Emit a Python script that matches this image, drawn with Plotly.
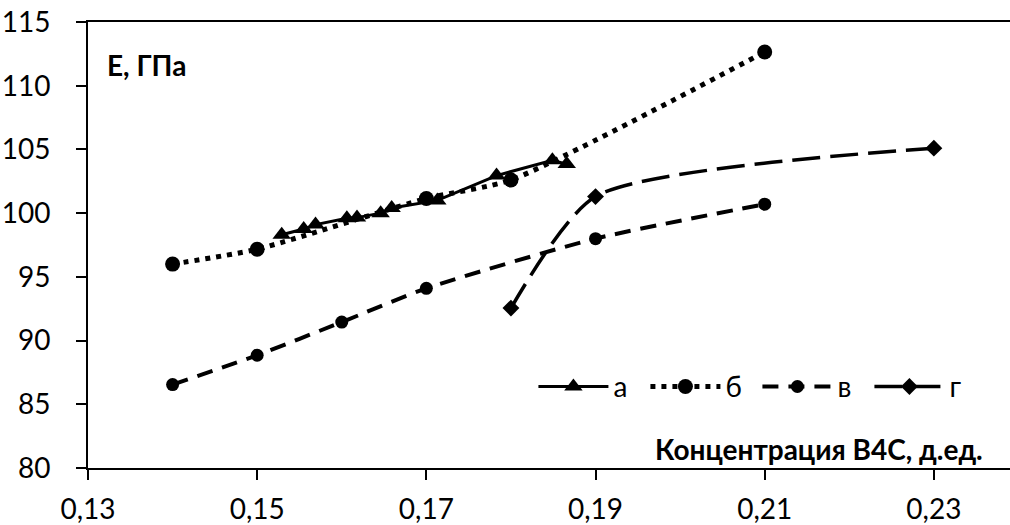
import plotly.graph_objects as go

# Series а (solid, triangles)
a_x = [0.1529, 0.1555, 0.1569, 0.1606, 0.1618, 0.1646, 0.1659, 0.1713, 0.1783, 0.1849, 0.1866]
a_y = [98.3, 98.75, 99.1, 99.6, 99.65, 100.0, 100.4, 101.0, 102.95, 104.15, 103.85]

# Series б (dotted, circles)
b_x = [0.14, 0.15, 0.17, 0.18, 0.21]
b_y = [96.0, 97.17, 101.15, 102.6, 112.65]

# Series в (dashed, circles)
v_x = [0.14, 0.15, 0.16, 0.17, 0.19, 0.21]
v_y = [86.55, 88.85, 91.45, 94.1, 98.0, 100.7]

# Series г (long dash, diamonds)
g_x = [0.18, 0.19, 0.23]
g_y = [92.55, 101.3, 105.1]

x_ticks = [0.13, 0.15, 0.17, 0.19, 0.21, 0.23]
x_tick_labels = ["0,13", "0,15", "0,17", "0,19", "0,21", "0,23"]
y_ticks = [80, 85, 90, 95, 100, 105, 110, 115]

FONT = "Lato, 'Noto Sans', sans-serif"

fig = go.Figure()
fig.add_trace(go.Scatter(
    x=a_x, y=a_y, name="а", mode="lines+markers",
    line=dict(color="black", width=3),
    marker=dict(symbol="triangle-up", size=16, color="black"),
))
fig.add_trace(go.Scatter(
    x=b_x, y=b_y, name="б", mode="lines+markers",
    line=dict(color="black", width=5, dash="5px,6px", shape="spline", smoothing=0.6),
    marker=dict(symbol="circle", size=15, color="black"),
))
fig.add_trace(go.Scatter(
    x=v_x, y=v_y, name="в", mode="lines+markers",
    line=dict(color="black", width=4, dash="16px,10px", shape="spline", smoothing=0.6),
    marker=dict(symbol="circle", size=13, color="black"),
))
fig.add_trace(go.Scatter(
    x=g_x, y=g_y, name="г", mode="lines+markers",
    line=dict(color="black", width=3.5, dash="28px,10px", shape="spline", smoothing=0.65),
    marker=dict(symbol="diamond", size=13, color="black"),
))

fig.update_layout(
    width=1010, height=525,
    margin=dict(l=88, r=0, t=22, b=57),
    paper_bgcolor="white", plot_bgcolor="white",
    font=dict(family=FONT, size=28, color="black"),
    showlegend=True,
    legend=dict(
        orientation="h", x=0.969, xanchor="right", y=0.182, yanchor="middle",
        font=dict(family=FONT, size=28, color="black"),
        bgcolor="rgba(0,0,0,0)", itemwidth=70, entrywidth=27, tracegroupgap=0,
    ),
    xaxis=dict(
        range=[0.13, 0.239], tickmode="array", tickvals=x_ticks, ticktext=x_tick_labels,
        showgrid=False, zeroline=False, showline=True, linecolor="black", linewidth=2,
        ticks="outside", ticklen=10, tickwidth=2, tickcolor="black", mirror=True,
        ticklabelstandoff=5, automargin=False,
    ),
    yaxis=dict(
        range=[80, 115], tickmode="array", tickvals=y_ticks,
        showgrid=False, zeroline=False, showline=True, linecolor="black", linewidth=2,
        ticks="outside", ticklen=10, tickwidth=2, tickcolor="black",
        ticklabelstandoff=20, automargin=False,
    ),
    annotations=[
        dict(text="<b>Е, ГПа</b>", xref="paper", yref="paper", x=0.018, y=0.904,
             xanchor="left", yanchor="middle", showarrow=False,
             font=dict(family=FONT, size=28, color="black")),
        dict(text="<b>Концентрация В4С, д.ед.</b>", xref="paper", yref="paper", x=0.973, y=0.0,
             xanchor="right", yanchor="bottom", yshift=0, showarrow=False,
             font=dict(family=FONT, size=28, color="black")),
    ],
)

# Remove the default 8px body margin so the 1010x525 figure fills the window exactly.
fig.write_html(
    "out.html",
    config={"displayModeBar": False},
    post_script="document.body.style.margin='0';",
)
